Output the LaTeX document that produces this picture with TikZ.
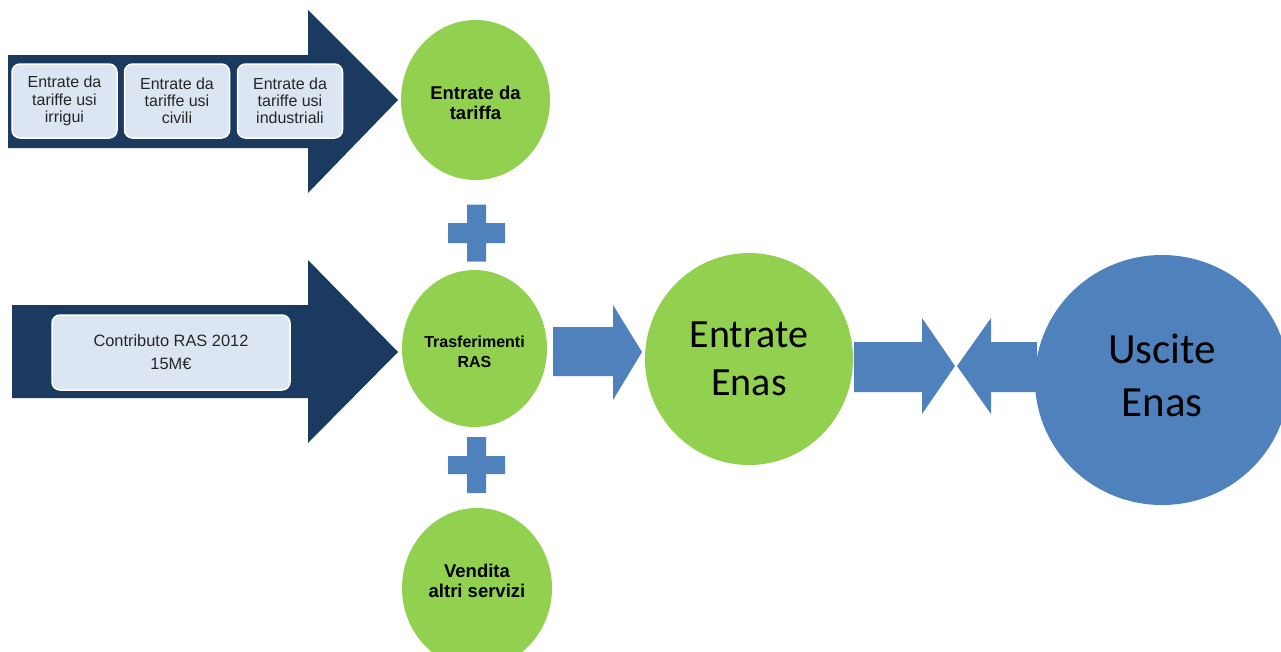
\documentclass[tikz,border=0pt]{standalone}
\usepackage{fontspec}
\setmainfont{Liberation Sans}
\newfontfamily\calibri{Carlito}
\usetikzlibrary{shapes.geometric}
\definecolor{navy}{RGB}{27,58,95}
\definecolor{tile}{RGB}{220,230,242}
\definecolor{leaf}{RGB}{146,208,80}
\definecolor{steel}{RGB}{79,129,189}
\tikzset{voce/.style={draw=white, line width=1.5pt, fill=tile, rounded corners=8pt,
   align=center, inner sep=0pt, text=black!85},
 bolla/.style={ellipse, fill=leaf, inner sep=0pt},
 scritta/.style={align=center, inner sep=0pt},
 }
\begin{document}
\begin{tikzpicture}[x=1pt, y=-1pt]
        \useasboundingbox (0,0) rectangle (1281,651);
        \clip (0,0) rectangle (1281,651);
        % big dark arrows
        \fill[navy] (8,55) -- (308,55) -- (308,10) -- (398,100) -- (308,193) -- (308,148) -- (8,148) -- cycle;
        \fill[navy] (12,305) -- (308,305) -- (308,260) -- (398,352) -- (308,443) -- (308,398) -- (12,398) -- cycle;
        \node[voce, minimum width=105, minimum height=74, font=\fontsize{16}{17.2}\selectfont] (irrigui) at (64.5,101) {Entrate da\\tariffe usi\\irrigui};
        \node[voce, minimum width=105, minimum height=74, font=\fontsize{16}{17.2}\selectfont] (civili) at (177,101) {Entrate da\\tariffe usi\\civili};
        \node[voce, minimum width=105, minimum height=74, font=\fontsize{16}{17.2}\selectfont] (industriali) at (290,101) {Entrate da\\tariffe usi\\industriali};
        \node[voce, minimum width=238, minimum height=75, font=\fontsize{16.4}{23}\selectfont] (contributo) at (171,352.5) {Contributo RAS 2012\\15M€};
        % green circles
        \node[bolla, minimum width=149, minimum height=160] (tariffa) at (475.5,100) {};
        \node[bolla, minimum width=145, minimum height=157] (ras) at (474.5,348.5) {};
        \node[bolla, minimum width=150, minimum height=160] (servizi) at (477,588) {};
        \node[scritta, font=\bfseries\fontsize{18.5}{20}\selectfont] (tariffa-t) at ([yshift=-3pt]tariffa.center) {Entrate da\\tariffa};
        \node[scritta, font=\bfseries\fontsize{16}{20}\selectfont] (ras-t) at ([yshift=-3pt]ras.center) {Trasferimenti\\RAS};
        \node[scritta, font=\bfseries\fontsize{18.5}{19.5}\selectfont] (servizi-t) at ([yshift=7pt]servizi.center) {Vendita\\altri servizi};
        % plus signs
        \fill[steel, shift={(476.5,233)}] (-28.5,-10) rectangle (28.5,10) (-9.5,-28.5) rectangle (9.5,28.5);
        \fill[steel, shift={(476.5,465)}] (-28.5,-9) rectangle (28.5,9) (-9.5,-28) rectangle (9.5,28);
        % right part
        \node[ellipse, fill=leaf, minimum width=208, minimum height=212] (entrate) at (749,359) {};
        \node[ellipse, fill=steel, minimum width=254, minimum height=250] (uscite) at (1162,380) {};
        \node[scritta, font=\calibri\fontsize{40}{48}\selectfont] (entrate-t) at (entrate.center) {Entrate\\Enas};
        \node[scritta, font=\calibri\fontsize{43}{53}\selectfont] (uscite-t) at ([yshift=5pt]uscite.center) {Uscite\\Enas};
        \fill[steel] (553,327) -- (613,327) -- (613,305) -- (642,352) -- (613,400) -- (613,376) -- (553,376) -- cycle;
        \fill[steel] (854,342) -- (922,342) -- (922,318) -- (955,366) -- (922,414) -- (922,392) -- (854,392) -- cycle;
        \fill[steel] (1037,342) -- (991,342) -- (991,318) -- (957,366) -- (991,414) -- (991,392) -- (1037,392) -- cycle;
    \end{tikzpicture}
\end{document}
